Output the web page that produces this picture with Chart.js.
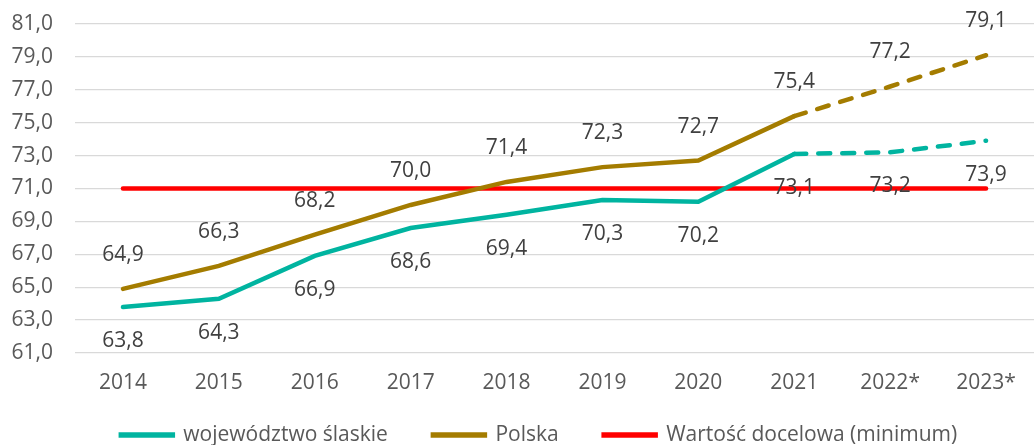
<!DOCTYPE html>
<html>
<head>
<meta charset="utf-8">
<script src="https://cdn.jsdelivr.net/npm/chart.js@4"></script>
<style>
  html, body { margin: 0; padding: 0; background: #fff; }
  #wrap { width: 1034px; height: 445px; }
</style>
</head>
<body>
<div id="wrap"><canvas id="chart" width="1034" height="445"></canvas></div>
<script>
const years = ["2014", "2015", "2016", "2017", "2018", "2019", "2020", "2021", "2022*", "2023*"];
const slaskie = [63.8, 64.3, 66.9, 68.6, 69.4, 70.3, 70.2, 73.1, 73.2, 73.9];
const polska = [64.9, 66.3, 68.2, 70.0, 71.4, 72.3, 72.7, 75.4, 77.2, 79.1];
const target = [71, 71, 71, 71, 71, 71, 71, 71, 71, 71];

const fmt = v => v.toFixed(1).replace(".", ",");
const dashFrom = 7;

// etykiety wartości: Polska nad linią, województwo pod linią
const valueLabels = {
    id: "valueLabels",
    afterDatasetsDraw(chart) {
        const ctx = chart.ctx;
        ctx.save();
        ctx.font = "21px 'Open Sans'";
        ctx.fillStyle = "#404040";
        ctx.textAlign = "center";
        ctx.textBaseline = "middle";
        [0, 1].forEach(di => {
            const ds = chart.data.datasets[di];
            chart.getDatasetMeta(di).data.forEach((pt, i) => {
                const dy = di === 1 ? -34 : 34;
                ctx.fillText(fmt(ds.data[i]), pt.x, pt.y + dy);
            });
        });
        ctx.restore();
    }
};

// legenda: duże odstępy między pozycjami, ale niska i tuż pod osią X
const legendFit = {
    id: "legendFit",
    beforeInit(chart) {
        const lg = chart.legend;
        const fit = lg.fit;
        lg.fit = function () { fit.call(this); this.height = 32; };
    },
    afterLayout(chart) {
        chart.legend.top -= 33.5;
        chart.legend.left += 44;
    }
};

const dashed = c => c.p0DataIndex >= dashFrom ? [12, 12] : undefined;

new Chart(document.getElementById("chart"), {
    type: "line",
    data: {
        labels: years,
        datasets: [
            { label: "województwo ślaskie", data: slaskie, borderColor: "#00B4A0", backgroundColor: "#00B4A0",
              borderWidth: 4.5, pointRadius: 0, tension: 0, borderCapStyle: "round", segment: { borderDash: dashed } },
            { label: "Polska", data: polska, borderColor: "#A47C00", backgroundColor: "#A47C00",
              borderWidth: 4.5, pointRadius: 0, tension: 0, borderCapStyle: "round", segment: { borderDash: dashed } },
            { label: "Wartość docelowa (minimum)", data: target, borderColor: "#FF0000", backgroundColor: "#FF0000",
              borderWidth: 4.5, pointRadius: 0, borderCapStyle: "round" }
        ]
    },
    options: {
        responsive: false,
        animation: false,
        layout: { padding: { left: 0, right: 0, top: 24, bottom: 0 } },
        scales: {
            x: {
                offset: true,
                grid: { display: false, drawTicks: false },
                border: { display: false },
                ticks: { color: "#595959", font: { family: "Open Sans", size: 21 }, padding: 17.4 }
            },
            y: {
                min: 61, max: 81,
                grid: { color: "#d9d9d9", lineWidth: 1.3, drawTicks: false },
                border: { display: false },
                ticks: { stepSize: 2, color: "#595959", font: { family: "Open Sans", size: 21 }, padding: 22,
                         callback: v => fmt(v) },
                afterFit: s => { s.width = 75; s.paddingTop = 0; s.paddingBottom = 0; }
            }
        },
        plugins: {
            legend: {
                position: "bottom",
                labels: { color: "#595959", font: { family: "Open Sans", size: 21 }, boxWidth: 52, boxHeight: 1,
                          padding: 45 }
            },
            tooltip: { enabled: false }
        }
    },
    plugins: [valueLabels, legendFit]
});
</script>
</body>
</html>
